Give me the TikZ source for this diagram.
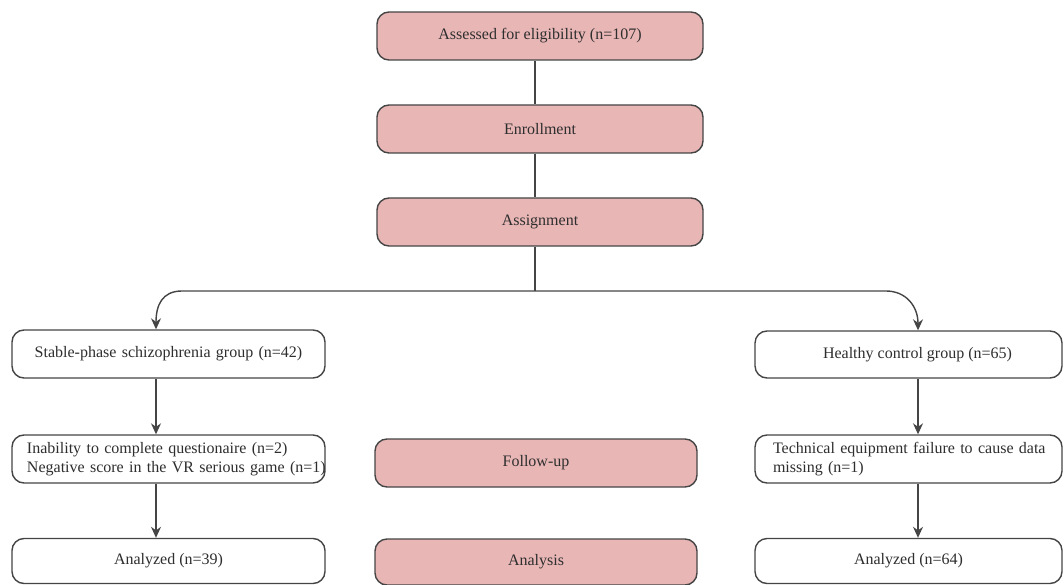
\documentclass[tikz,border=0pt]{standalone}
\usepackage{fontspec}
\setmainfont{Liberation Serif}
\usetikzlibrary{arrows.meta,calc}
\definecolor{pinkfill}{HTML}{E9B6B6}
\definecolor{edgegray}{HTML}{454545}
\definecolor{txtgray}{HTML}{2E2E2E}
\begin{document}
\begin{tikzpicture}[x=1pt,y=-1pt,
  basebox/.style={draw=edgegray,line width=1.4pt,rounded corners=12pt,
    inner sep=0pt,text=txtgray,font=\fontsize{16}{19}\selectfont},
  phase/.style={basebox,fill=pinkfill,minimum width=326pt,minimum height=48pt},
  grp/.style={basebox,fill=white,minimum height=48pt},
  conn/.style={draw=edgegray,line width=1.4pt},
  arr/.style={conn,-{Stealth[length=11pt,width=10pt]}}]
\useasboundingbox (0,0) rectangle (1064,585);
% phase column
\node[phase] (assess) at (540,36) {Assessed for eligibility (n=107)};
\node[phase] (enroll) at (540,129) {Enrollment};
\node[phase] (assign) at (540,222) {Assignment};
\node[phase,minimum width=322pt] (follow) at (536,463) {Follow-up};
\node[phase,minimum width=322pt,minimum height=46pt] (analysis) at (536,562) {Analysis};
% left branch
\node[grp,minimum width=313pt,align=left,text width=283pt] (stable) at (168.5,354) {\centering Stable-phase schizophrenia group (n=42)\par};
\node[grp,minimum width=313pt,align=left,text width=283pt] (inab) at (168.5,459)
  {\mbox{Inability to complete questionaire (n=2)}\\\mbox{Negative score in the VR serious game (n=1)}};
\node[grp,minimum width=313pt,minimum height=45pt] (anl) at (168.5,561) {Analyzed (n=39)};
% right branch
\node[grp,minimum width=307pt,minimum height=47pt] (healthy) at (908.5,354.5) {\hspace*{18pt}Healthy control group (n=65)};
\node[grp,minimum width=307pt,align=left,text width=271pt] (tech) at (908.5,459)
  {\mbox{Technical equipment failure to cause data}\\\mbox{missing (n=1)}};
\node[grp,minimum width=307pt,minimum height=45pt] (anr) at (908.5,561) {Analyzed (n=64)};
% coordinates
\coordinate (cx) at (535,0);
\coordinate (lx) at (156,0);
\coordinate (rx) at (918,0);
\coordinate (jn) at (535,291);
\coordinate (jl) at (182,291);
\coordinate (jr) at (886,291);
% connectors
\draw[conn] (assess.south -| cx) -- (enroll.north -| cx);
\draw[conn] (enroll.south -| cx) -- (assign.north -| cx);
\draw[conn] (assign.south -| cx) -- (jn);
\draw[arr] (jn) -- (jl) .. controls +(-20,0) and +(0,-24) .. (stable.north -| lx);
\draw[arr] (jn) -- (jr) .. controls +(20,0) and +(0,-24) .. (healthy.north -| rx);
\draw[arr] (stable.south -| lx) -- (inab.north -| lx);
\draw[arr] (inab.south -| lx) -- (anl.north -| lx);
\draw[arr] (healthy.south -| rx) -- (tech.north -| rx);
\draw[arr] (tech.south -| rx) -- (anr.north -| rx);
\end{tikzpicture}
\end{document}
